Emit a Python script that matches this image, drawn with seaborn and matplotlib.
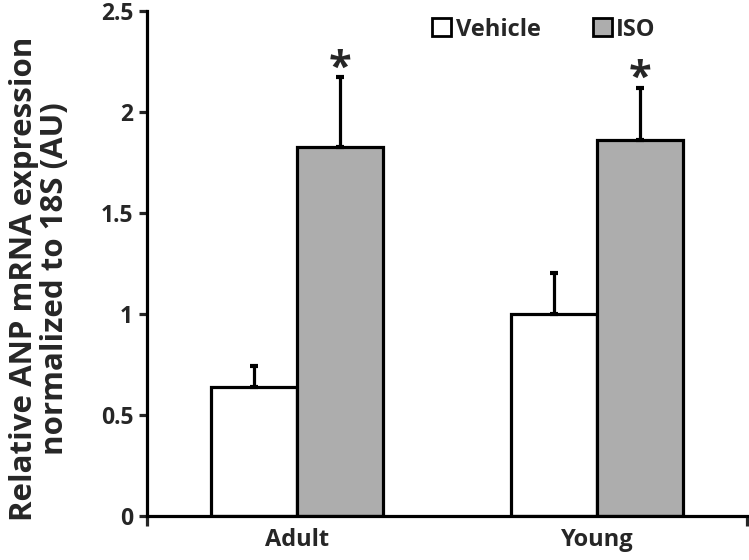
import pandas as pd
import numpy as np
import matplotlib
matplotlib.use("Agg")
import matplotlib.pyplot as plt
from matplotlib.patches import Patch
import seaborn as sb

# values
groups = ["Adult", "Young"]
treatments = ["Vehicle", "ISO"]
means = {"Vehicle": [0.637, 1.003], "ISO": [1.828, 1.861]}
sems = {"Vehicle": [0.107, 0.203], "ISO": [0.347, 0.261]}
significant = {"Vehicle": [False, False], "ISO": [True, True]}
y_ticks = [0, 0.5, 1, 1.5, 2, 2.5]
y_tick_labels = ["0", "0.5", "1", "1.5", "2", "2.5"]

if __name__ == '__main__':
    sb.set_style("white")
    plt.rcParams['font.family'] = ['Open Sans', 'DejaVu Sans']
    plt.rcParams['font.weight'] = 'bold'

    rows = []
    for t in treatments:
        for i, g in enumerate(groups):
            rows.append({"group": g, "treatment": t, "mean": means[t][i], "sem": sems[t][i]})
    df = pd.DataFrame(rows)

    fig = plt.figure(figsize=(7.49, 5.6), dpi=100)
    ax = fig.add_axes([0.1963, 0.0786, 0.801, 0.901])
    colors = {"Vehicle": "white", "ISO": "#adadad"}
    sb.barplot(data=df, x="group", y="mean", hue="treatment", order=groups,
               hue_order=treatments, palette=colors, errorbar=None, width=0.573,
               gap=0, edgecolor="black", linewidth=2.3, legend=False, ax=ax)

    # one-sided error bars and asterisks, using bar centres from seaborn
    for t, container in zip(treatments, ax.containers):
        for i, bar in enumerate(container):
            xc = bar.get_x() + bar.get_width() / 2
            top = bar.get_height()
            ax.errorbar(xc, top, yerr=[[0], [sems[t][i]]], fmt="none",
                        ecolor="black", elinewidth=2.3, capsize=3, capthick=3, zorder=1)
            if significant[t][i]:
                ax.text(xc, top + sems[t][i] + 0.04, "*", ha="center", va="center",
                        fontsize=30, fontweight="bold")

    ax.set_xlim(-0.5, 1.5)
    ax.set_ylim(0, 2.5)
    ax.set_yticks(y_ticks)
    ax.set_yticklabels(y_tick_labels)
    ax.set_xlabel("")
    ax.set_ylabel("Relative ANP mRNA expression\nnormalized to 18S (AU)",
                  fontsize=22.5, fontweight="bold", linespacing=1.05)
    ax.yaxis.set_label_coords(-0.128, 0.47)
    ax.tick_params(axis="y", direction="out", length=6, width=2.3, labelsize=16.5, pad=4, left=True)
    ax.tick_params(axis="x", which="major", length=0, labelsize=17, pad=9)
    ax.set_xticks([-0.5, 1.5], minor=True)
    ax.tick_params(axis="x", which="minor", direction="out", length=7, width=2.3, bottom=True)
    for lab in ax.get_xticklabels() + ax.get_yticklabels():
        lab.set_fontweight("bold")

    sb.despine(ax=ax)
    for side in ["left", "bottom"]:
        ax.spines[side].set_linewidth(2.3)
        ax.spines[side].set_color("black")

    handles = [Patch(facecolor=colors[t], edgecolor="black", linewidth=2, label=t) for t in treatments]
    ax.legend(handles=handles, ncol=2, frameon=False, loc="upper left",
              bbox_to_anchor=(0.44, 1.03), handlelength=0.8, handleheight=0.8,
              handletextpad=0.2, columnspacing=2.2, prop={"size": 17, "weight": "bold"})

    plt.savefig("out.png", dpi=100)
